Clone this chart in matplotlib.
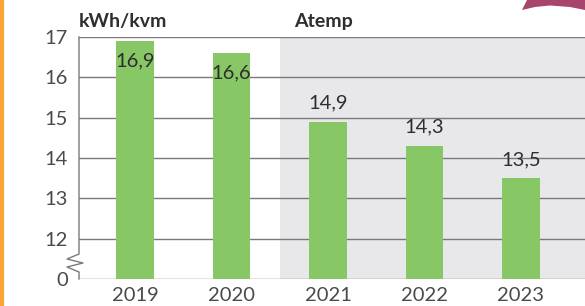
import matplotlib
matplotlib.use("Agg")
import matplotlib.pyplot as plt
from matplotlib.patches import Polygon
from matplotlib.lines import Line2D
import matplotlib.transforms as mtransforms

years = ["2019", "2020", "2021", "2022", "2023"]
values = [16.9, 16.6, 14.9, 14.3, 13.5]
labels = ["16,9", "16,6", "14,9", "14,3", "13,5"]
inside = [True, True, False, False, False]
ytick_vals = [11, 12, 13, 14, 15, 16, 17]
ytick_labels = ["0", "12", "13", "14", "15", "16", "17"]

W, H = 585, 306
plt.rcParams['font.family'] = ['Lato', 'DejaVu Sans']
fig = plt.figure(figsize=(W / 100, H / 100), dpi=100)
ax = fig.add_axes([79 / W, 1 - 279 / H, (W - 79) / W + 0.001, (279 - 37) / H])

bar_color = "#88C766"
grid_color = "#7a7a7a"
text_color = "#2e2e2e"
tick_color = "#4a4a4a"

x = list(range(len(years)))
ax.set_xlim(-0.58, 4.67)
ax.set_ylim(11, 17)
ax.axvspan(1.5, 4.67, color="#E8E8EA", zorder=0, lw=0)
for yv in ytick_vals:
    ax.axhline(yv, color=grid_color, lw=1.0, zorder=1)
ax.bar(x, values, width=0.385, color=bar_color, zorder=2)

for xi, v, lab, ins in zip(x, values, labels, inside):
    off = -14 if ins else 13.5
    ax.annotate(lab, (xi, v), xytext=(0, off), textcoords="offset points",
                ha="center", va="center", fontsize=14.5, color=text_color, zorder=3)

ax.set_xticks(x)
ax.set_xticklabels(years, fontsize=14.5, color=tick_color)
ax.set_yticks(ytick_vals)
ax.set_yticklabels(ytick_labels, fontsize=14.5, color=tick_color)
ax.tick_params(length=0, pad=8, axis="y")
ax.tick_params(length=0, pad=5.5, axis="x")
for s in ax.spines.values():
    s.set_visible(False)

# left spine with break zigzag (pixel offsets)
trans = mtransforms.blended_transform_factory(ax.transAxes, ax.transData)
def py2d(py):
    return 17 - (py - 37) / ((279 - 37) / 6)
xs_px = [0, 0, -12, 4, -12, 0, 0]
ys_px = [37, 254, 259, 263, 267, 272, 279]
xs = [p / ((W - 79) + 0.585) for p in xs_px]
ys = [py2d(p) for p in ys_px]
ax.add_line(Line2D(xs, ys, transform=trans, color=grid_color, lw=1.0, clip_on=False, zorder=4))

fig.text(79 / W, 1 - 22 / H, "kWh/kvm", fontsize=14, fontweight="bold", color=text_color,
         ha="left", va="center")
fig.text(294 / W, 1 - 22 / H, "Atemp", fontsize=14, fontweight="bold", color=text_color,
         ha="left", va="center")

# decorations
fig.add_artist(Line2D([1.5 / W, 1.5 / W], [0, 1], transform=fig.transFigure,
                      color="#F7A534", lw=3))
pts = [(522, 10), (527, 0), (585, 0), (585, 10), (570, 7), (550, 5.5), (535, 7)]
fig.add_artist(Polygon([(px / W, 1 - py / H) for px, py in pts], closed=True,
                       transform=fig.transFigure, color="#A8456F", lw=0))

fig.savefig("out.png", dpi=100)
